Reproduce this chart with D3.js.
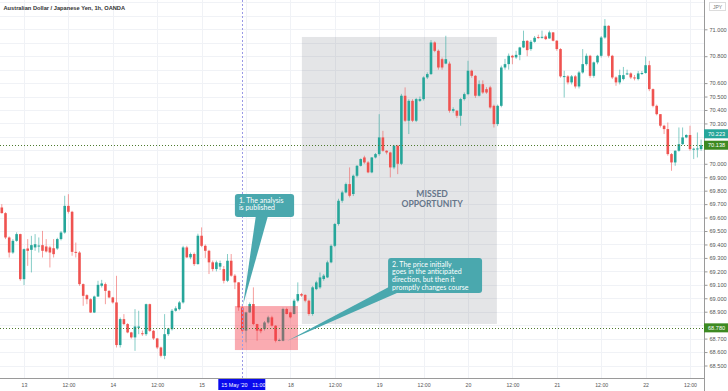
<!DOCTYPE html>
<html>
<head>
<meta charset="utf-8">
<script src="https://cdn.jsdelivr.net/npm/d3@7/dist/d3.min.js"></script>
<style>
body { margin: 0; background: #fff; }
svg { display: block; font-family: Arial, "Liberation Sans", sans-serif; }
</style>
</head>
<body>
<svg id="chart" width="728" height="391"></svg>
<script>
var chartTitle = 'Australian Dollar / Japanese Yen, 1h, OANDA';

// hourly candles, 12 May 18:00 .. 22 May 15:00 (weekend skipped)
var open = [
	69.675, 69.633, 69.452, 69.340, 69.427, 69.477, 69.142, 69.370, 69.360, 69.378,
	69.390, 69.395, 69.385, 69.378, 69.372, 69.370, 69.440, 69.489, 69.687, 69.643,
	69.345, 69.340, 69.105, 69.023, 68.993, 68.894, 69.013, 69.093, 69.105, 69.055,
	69.006, 68.969, 68.652, 68.845, 68.808, 68.746, 68.709, 68.780, 68.740, 68.733,
	68.956, 68.758, 68.701, 68.634, 68.572, 68.733, 68.770, 68.907, 68.919, 68.969,
	69.378, 69.304, 69.329, 69.254, 69.465, 69.390, 69.353, 69.267, 69.217, 69.235,
	69.217, 69.130, 69.279, 69.168, 69.118, 68.932, 68.759, 68.895, 68.957, 68.808,
	68.771, 68.771, 68.820, 68.858, 68.796, 68.684, 68.684, 68.920, 68.895, 68.883,
	68.982, 69.031, 69.025, 68.982, 68.883, 69.068, 69.081, 69.143, 69.155, 69.267,
	69.390, 69.552, 69.725, 69.787, 69.849, 69.775, 69.911, 69.985, 70.047, 70.010,
	69.936, 70.047, 70.072, 70.196, 70.097, 70.084, 69.973, 70.134, 70.000, 70.506,
	70.320, 70.468, 70.320, 70.468, 70.481, 70.642, 70.667, 70.902, 70.840, 70.778,
	70.745, 70.745, 70.394, 70.394, 70.357, 70.481, 70.518, 70.692, 70.654, 70.506,
	70.592, 70.555, 70.568, 70.431, 70.295, 70.431, 70.716, 70.741, 70.803, 70.791,
	70.810, 70.865, 70.914, 70.853, 70.907, 70.942, 70.942, 70.947, 70.932, 70.977,
	70.915, 70.853, 70.650, 70.650, 70.605, 70.650, 70.575, 70.679, 70.741, 70.803,
	70.654, 70.754, 70.803, 70.939, 71.026, 70.803, 70.642, 70.605, 70.630, 70.667,
	70.672, 70.642, 70.630, 70.672, 70.675, 70.733, 70.555, 70.431, 70.369, 70.283,
	70.258, 70.072, 70.010, 70.097, 70.146, 70.196, 70.214, 70.109, 70.109, 70.109
];
var high = [
	69.700, 69.640, 69.460, 69.440, 69.490, 69.480, 69.370, 69.440, 69.464, 69.477,
	69.452, 69.501, 69.440, 69.390, 69.440, 69.450, 69.500, 69.762, 69.774, 69.650,
	69.414, 69.350, 69.110, 69.030, 69.000, 69.020, 69.130, 69.137, 69.117, 69.060,
	69.010, 69.167, 68.857, 68.882, 68.815, 68.750, 68.919, 68.907, 68.760, 68.960,
	68.960, 68.765, 68.705, 68.640, 68.882, 68.780, 68.920, 68.940, 68.980, 69.390,
	69.390, 69.340, 69.340, 69.480, 69.527, 69.400, 69.360, 69.280, 69.280, 69.280,
	69.240, 69.329, 69.329, 69.180, 69.120, 68.957, 68.900, 68.969, 69.081, 68.810,
	68.780, 68.830, 68.870, 68.870, 68.800, 68.700, 68.930, 68.930, 68.900, 68.994,
	69.118, 69.040, 69.030, 68.990, 69.090, 69.130, 69.192, 69.180, 69.280, 69.400,
	69.560, 69.740, 69.800, 69.860, 69.973, 69.920, 69.990, 70.040, 70.060, 70.020,
	70.050, 70.080, 70.369, 70.245, 70.100, 70.090, 70.140, 70.140, 70.520, 70.568,
	70.480, 70.480, 70.490, 70.500, 70.650, 70.680, 70.920, 70.910, 70.850, 70.790,
	70.952, 70.760, 70.420, 70.400, 70.490, 70.530, 70.766, 70.700, 70.660, 70.620,
	70.620, 70.570, 70.580, 70.440, 70.440, 70.730, 70.780, 70.820, 70.810, 70.840,
	70.870, 70.990, 70.920, 70.920, 70.950, 70.960, 70.990, 70.960, 70.990, 70.980,
	70.920, 70.860, 70.692, 70.660, 70.660, 70.660, 70.690, 70.853, 70.820, 70.810,
	70.760, 70.810, 70.950, 71.076, 71.030, 70.810, 70.650, 70.700, 70.720, 70.700,
	70.680, 70.660, 70.690, 70.690, 70.798, 70.766, 70.560, 70.440, 70.370, 70.290,
	70.307, 70.080, 70.100, 70.270, 70.270, 70.220, 70.283, 70.120, 70.233, 70.180
];
var low = [
	69.630, 69.440, 69.303, 69.330, 69.420, 69.130, 69.098, 69.241, 69.192, 69.353,
	69.340, 69.303, 69.340, 69.229, 69.303, 69.360, 69.430, 69.480, 69.630, 69.316,
	69.303, 69.093, 68.944, 68.956, 68.890, 68.890, 69.010, 69.080, 68.956, 69.000,
	68.960, 68.634, 68.634, 68.800, 68.740, 68.700, 68.609, 68.733, 68.720, 68.720,
	68.750, 68.690, 68.622, 68.560, 68.547, 68.720, 68.760, 68.900, 68.910, 68.960,
	69.300, 69.290, 69.240, 69.250, 69.380, 69.300, 69.180, 69.200, 69.200, 69.210,
	69.110, 69.120, 69.160, 69.068, 68.907, 68.740, 68.672, 68.890, 68.800, 68.684,
	68.740, 68.760, 68.810, 68.790, 68.672, 68.680, 68.680, 68.880, 68.850, 68.880,
	68.970, 69.010, 68.970, 68.870, 68.870, 69.060, 69.070, 69.130, 69.150, 69.260,
	69.380, 69.540, 69.710, 69.780, 69.750, 69.760, 69.900, 69.980, 70.000, 69.930,
	69.930, 70.040, 70.060, 70.090, 70.070, 69.899, 69.960, 69.923, 69.990, 70.310,
	70.221, 70.310, 70.310, 70.460, 70.470, 70.630, 70.660, 70.830, 70.700, 70.700,
	70.740, 70.380, 70.380, 70.340, 70.283, 70.470, 70.510, 70.640, 70.490, 70.500,
	70.520, 70.520, 70.410, 70.270, 70.280, 70.420, 70.700, 70.700, 70.740, 70.780,
	70.770, 70.860, 70.800, 70.840, 70.900, 70.930, 70.930, 70.920, 70.930, 70.910,
	70.840, 70.640, 70.493, 70.590, 70.590, 70.560, 70.560, 70.670, 70.730, 70.640,
	70.640, 70.740, 70.790, 70.930, 70.790, 70.630, 70.580, 70.590, 70.620, 70.660,
	70.630, 70.620, 70.620, 70.660, 70.670, 70.540, 70.420, 70.360, 70.270, 70.221,
	70.060, 69.948, 69.985, 70.090, 70.140, 70.190, 70.097, 70.035, 70.047, 70.097
];
var close = [
	69.633, 69.452, 69.340, 69.427, 69.477, 69.142, 69.365, 69.353, 69.395, 69.402,
	69.392, 69.353, 69.348, 69.340, 69.328, 69.440, 69.489, 69.687, 69.643, 69.345,
	69.340, 69.105, 69.018, 68.993, 68.894, 69.013, 69.100, 69.110, 69.055, 69.006,
	68.969, 68.652, 68.845, 68.808, 68.746, 68.709, 68.790, 68.790, 68.733, 68.956,
	68.758, 68.701, 68.634, 68.572, 68.733, 68.775, 68.907, 68.925, 68.969, 69.378,
	69.304, 69.329, 69.254, 69.465, 69.390, 69.353, 69.267, 69.217, 69.267, 69.262,
	69.130, 69.279, 69.168, 69.118, 68.932, 68.759, 68.895, 68.957, 68.808, 68.759,
	68.755, 68.820, 68.858, 68.796, 68.684, 68.690, 68.920, 68.883, 68.858, 68.982,
	69.031, 69.020, 68.982, 68.883, 69.081, 69.118, 69.155, 69.168, 69.267, 69.390,
	69.552, 69.725, 69.787, 69.849, 69.762, 69.911, 69.985, 70.035, 70.010, 69.936,
	70.047, 70.072, 70.196, 70.097, 70.084, 69.973, 70.134, 70.000, 70.506, 70.320,
	70.468, 70.320, 70.481, 70.481, 70.642, 70.667, 70.902, 70.840, 70.716, 70.716,
	70.778, 70.394, 70.406, 70.357, 70.481, 70.518, 70.692, 70.654, 70.506, 70.592,
	70.530, 70.530, 70.419, 70.295, 70.431, 70.716, 70.741, 70.803, 70.791, 70.810,
	70.865, 70.914, 70.845, 70.907, 70.937, 70.940, 70.944, 70.927, 70.977, 70.915,
	70.853, 70.650, 70.652, 70.605, 70.650, 70.575, 70.679, 70.741, 70.803, 70.654,
	70.754, 70.803, 70.939, 71.026, 70.803, 70.642, 70.605, 70.659, 70.659, 70.672,
	70.642, 70.640, 70.672, 70.675, 70.733, 70.555, 70.431, 70.369, 70.283, 70.258,
	70.072, 70.010, 70.097, 70.146, 70.196, 70.214, 70.109, 70.112, 70.114, 70.138
];

// time axis labels (candle index -> label); the 15th 12:00 label sits under the crosshair badge
var timeTickIndex = [6, 18, 30, 42, 54, 66, 78, 90, 102, 114, 126, 138, 150, 162, 174, 186];
var timeTickLabels = ['13', '12:00', '14', '12:00', '15', '', '18', '12:00', '19', '12:00', '20', '12:00', '21', '12:00', '22', '12:00'];

var priceTicks = [71.0, 70.8, 70.6, 70.5, 70.4, 70.3, 70.0, 69.9, 69.8, 69.7, 69.6, 69.5, 69.4, 69.3, 69.2, 69.1, 69.0, 68.9, 68.7, 68.6, 68.5];
var gridPrices = d3.range(68.4, 71.25, 0.1);

var priceLevels = [70.138, 68.780];
var priceBadges = [70.223, 70.138, 68.780];
var publishIndex = 65;
var publishLabel = ["15 May '20", '11:00'];

var note1 = ['1. The analysis', 'is published'];
var note2 = ['2. The price initially', 'goes in the anticipated', 'direction, but then it', 'promptly changes course'];
var missedText = ['MISSED', 'OPPORTUNITY'];


var svg = d3.select('#chart'),
	width = 728,
	height = 391,
	plotRight = 704,
	plotBottom = 378.5;

var candles = open.map(function(o, i) {
	return {i: i, o: o, h: high[i], l: low[i], c: close[i]};
});

var x = d3.scaleLinear().domain([0, candles.length - 1]).range([1.8, 1.8 + (candles.length - 1) * 3.7]);
var y = d3.scaleLinear().domain([68.5, 71.0]).range([365.5, 29.3]);

var green = '#26a69a',
	red = '#ef5350',
	gridColor = '#f0f2f6';

svg.append('rect').attr('width', width).attr('height', height).attr('fill', '#fff');


// grid
svg.append('g').selectAll('line').data(gridPrices)
	.enter().append('line')
	.attr('x1', 0).attr('x2', plotRight)
	.attr('y1', function(d) { return Math.round(y(d)) + 0.5; })
	.attr('y2', function(d) { return Math.round(y(d)) + 0.5; })
	.attr('stroke', gridColor);

svg.append('g').selectAll('line').data(timeTickIndex)
	.enter().append('line')
	.attr('y1', 0).attr('y2', plotBottom)
	.attr('x1', function(d) { return Math.round(x(d)) + 0.5; })
	.attr('x2', function(d) { return Math.round(x(d)) + 0.5; })
	.attr('stroke', gridColor);


// grey "missed opportunity" box sits under the candles
svg.append('rect')
	.attr('x', x(81.1)).attr('y', y(70.943))
	.attr('width', x(133.8) - x(81.1)).attr('height', y(68.809) - y(70.943))
	.attr('fill', 'rgba(120,124,134,0.2)');


// candles
var candle = svg.append('g').selectAll('g.candle').data(candles)
	.enter().append('g')
	.attr('class', 'candle');

candle.append('line')
	.attr('x1', function(d) { return x(d.i); })
	.attr('x2', function(d) { return x(d.i); })
	.attr('y1', function(d) { return y(d.h); })
	.attr('y2', function(d) { return y(d.l); })
	.attr('stroke', function(d) { return d.c >= d.o ? green : red; })
	.attr('stroke-opacity', 0.7)
	.attr('stroke-width', 0.8);

candle.append('rect')
	.attr('x', function(d) { return x(d.i) - 1.3; })
	.attr('width', 2.6)
	.attr('y', function(d) { return y(Math.max(d.o, d.c)); })
	.attr('height', function(d) { return Math.max(1, Math.abs(y(d.o) - y(d.c))); })
	.attr('fill', function(d) { return d.c >= d.o ? green : red; });


// pink box laid over the candles
svg.append('rect')
	.attr('x', x(63)).attr('y', y(68.942))
	.attr('width', x(80.05) - x(63)).attr('height', y(68.615) - y(68.942))
	.attr('fill', 'rgba(242,54,69,0.42)');


// horizontal levels
svg.append('g').selectAll('line').data(priceLevels)
	.enter().append('line')
	.attr('x1', 0).attr('x2', plotRight)
	.attr('y1', function(d) { return Math.round(y(d)) + 0.5; })
	.attr('y2', function(d) { return Math.round(y(d)) + 0.5; })
	.attr('stroke', '#4d7a2e')
	.attr('stroke-dasharray', '1,2');

// publish time marker
svg.append('line')
	.attr('x1', Math.round(x(publishIndex)) + 0.5).attr('x2', Math.round(x(publishIndex)) + 0.5)
	.attr('y1', 0).attr('y2', plotBottom)
	.attr('stroke', '#9a9ae6')
	.attr('stroke-dasharray', '2,2');


// missed opportunity label
svg.append('text')
	.attr('x', x(116.3)).attr('y', y(69.75))
	.attr('text-anchor', 'middle')
	.attr('fill', '#66768a')
	.attr('font-family', 'Lato, "Open Sans", sans-serif')
	.attr('font-weight', 'bold')
	.attr('font-size', 8.6)
	.selectAll('tspan').data(missedText)
	.enter().append('tspan')
	.attr('x', x(116.3))
	.attr('dy', function(d, i) { return i ? 10 : 0; })
	.text(function(d) { return d; });


// callouts
var calloutFill = '#4aa8ae';

function callout(box, base, tip, lines)
{
	var g = svg.append('g');

	g.append('path')
		.attr('d', 'M' + x(base[0]) + ',' + y(base[1]) + 'L' + x(base[2]) + ',' + y(base[3]) + 'L' + x(tip[0]) + ',' + y(tip[1]) + 'Z')
		.attr('fill', calloutFill);

	g.append('rect')
		.attr('x', x(box[0])).attr('y', y(box[1]))
		.attr('width', x(box[2]) - x(box[0])).attr('height', y(box[3]) - y(box[1]))
		.attr('rx', 3)
		.attr('fill', calloutFill);

	g.append('text')
		.attr('fill', '#fff')
		.attr('font-family', 'Lato, "Open Sans", sans-serif')
		.attr('font-size', 7)
		.selectAll('tspan').data(lines)
		.enter().append('tspan')
		.attr('x', x(box[0]) + 4)
		.attr('y', function(d, i) { return y(box[1]) + 8.5 + i * 7.7; })
		.text(function(d) { return d; });
}

callout([63.0, 69.775, 79.0, 69.604], [68.7, 69.62, 72.0, 69.62], [65.2, 68.95], note1);
callout([104.4, 69.299, 129.8, 69.039], [104.6, 69.084, 106.8, 69.039], [77.1, 68.682], note2);


// axes
svg.append('rect')
	.attr('x', plotRight).attr('y', 0).attr('width', width - plotRight).attr('height', height)
	.attr('fill', '#fff');
svg.append('rect')
	.attr('x', 0).attr('y', plotBottom).attr('width', width).attr('height', height - plotBottom)
	.attr('fill', '#fff');

var yAxis = svg.append('g')
	.attr('transform', 'translate(' + (plotRight + 0.5) + ',0)')
	.call(d3.axisRight(y).tickValues(priceTicks).tickFormat(d3.format('.3f')).tickSize(3).tickPadding(2));

yAxis.select('.domain').attr('stroke', '#9a9a9a').attr('d', 'M0,0V' + height);
yAxis.selectAll('.tick line').attr('stroke', '#9a9a9a');
yAxis.selectAll('text').attr('fill', '#555').attr('font-size', 5.6).attr('font-family', 'Arial, sans-serif');

var xAxis = svg.append('g')
	.attr('transform', 'translate(0,' + plotBottom + ')')
	.call(d3.axisBottom(x).tickValues(timeTickIndex).tickFormat(function(d, i) { return timeTickLabels[i]; }).tickSize(0).tickPadding(5));

xAxis.select('.domain').attr('stroke', '#9a9a9a').attr('d', 'M0,0H' + plotRight);
xAxis.selectAll('text').attr('fill', '#555').attr('font-size', 5.2).attr('font-family', 'Arial, sans-serif');


// price badges
var badgeColors = ['#26a69a', '#3d8a22', '#3d8a22'];

var badge = svg.append('g').selectAll('g').data(priceBadges)
	.enter().append('g')
	.attr('transform', function(d) { return 'translate(' + plotRight + ',' + y(d) + ')'; });

badge.append('rect')
	.attr('x', 0).attr('y', -4.5).attr('width', width - plotRight).attr('height', 9)
	.attr('fill', function(d, i) { return badgeColors[i]; });

badge.append('text')
	.attr('x', 4).attr('y', 2)
	.attr('fill', '#fff')
	.attr('font-size', 5.6)
	.text(function(d) { return d.toFixed(3); });


// publish time badge
var tb = svg.append('g')
	.attr('transform', 'translate(' + x(publishIndex) + ',' + plotBottom + ')');

tb.append('rect')
	.attr('x', -24).attr('y', 0.5).attr('width', 47).attr('height', 11)
	.attr('fill', '#0a0aee');

tb.append('text')
	.attr('x', -21).attr('y', 8)
	.attr('fill', '#fff')
	.attr('font-size', 5.4)
	.text(publishLabel[0]);

tb.append('text')
	.attr('x', 10).attr('y', 8)
	.attr('fill', '#fff')
	.attr('font-size', 5.4)
	.text(publishLabel[1]);


// currency box and title
svg.append('rect')
	.attr('x', 709.5).attr('y', 2.5).attr('width', 16).attr('height', 8)
	.attr('fill', '#fff').attr('stroke', '#dcdcdc');

svg.append('text')
	.attr('x', 717.5).attr('y', 8.6)
	.attr('text-anchor', 'middle')
	.attr('fill', '#777').attr('font-size', 5)
	.text('JPY');

svg.append('text')
	.attr('x', 3.5).attr('y', 9.5)
	.attr('fill', '#333')
	.attr('font-size', 5.7)
	.attr('font-weight', 'bold')
	.text(chartTitle);
</script>
</body>
</html>
